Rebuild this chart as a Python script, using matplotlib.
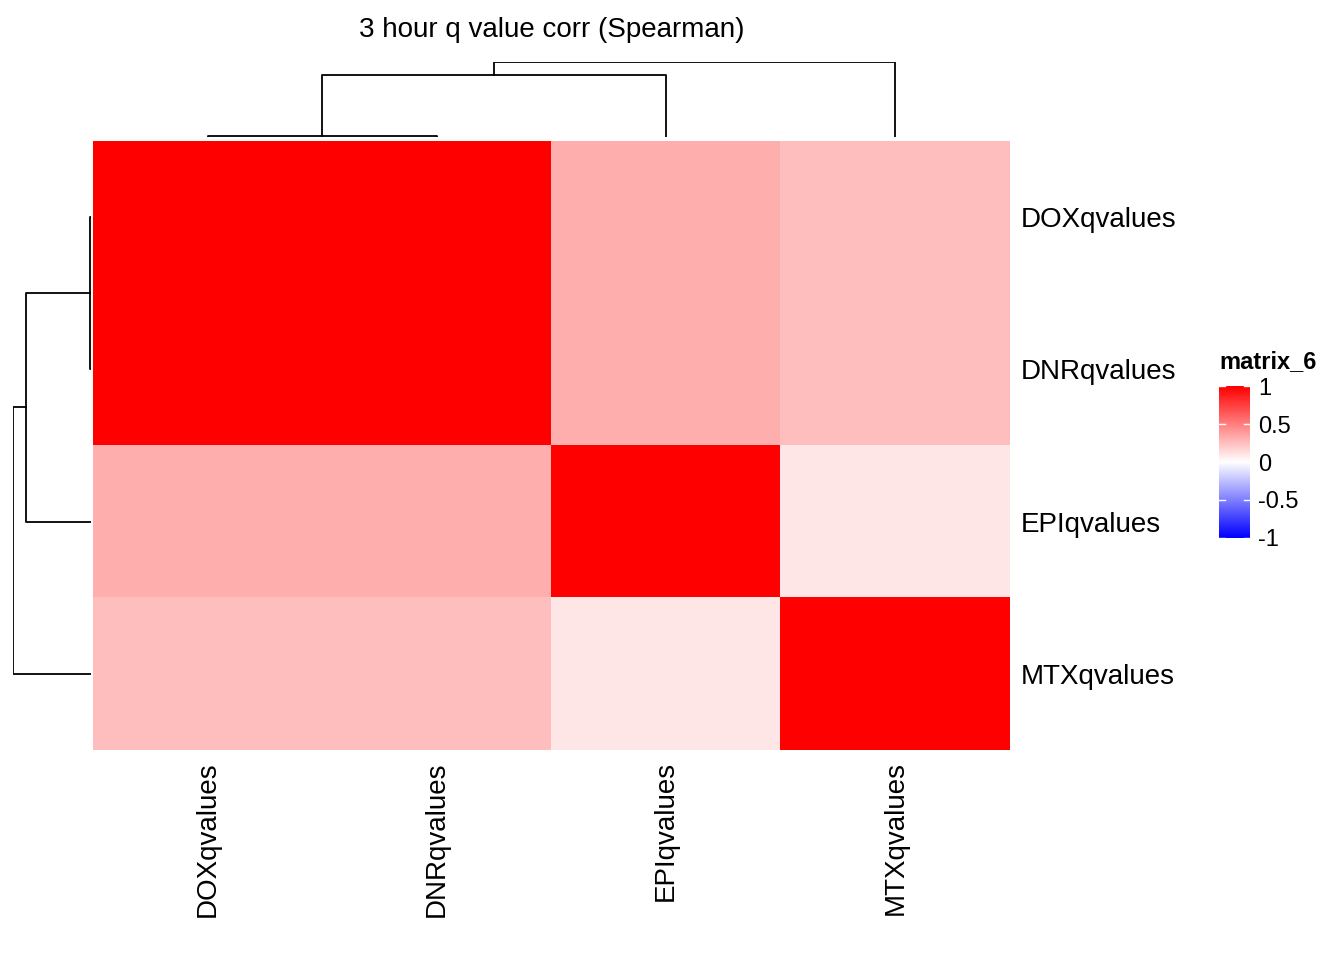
import matplotlib
matplotlib.use("Agg")
import matplotlib.pyplot as plt
import numpy as np
from matplotlib.colors import LinearSegmentedColormap

plt.rcParams['font.family'] = ['Liberation Sans', 'DejaVu Sans']

labels = ['DOXqvalues', 'DNRqvalues', 'EPIqvalues', 'MTXqvalues']
corr = np.array([
    [1.00, 1.00, 0.32, 0.25],
    [1.00, 1.00, 0.32, 0.25],
    [0.32, 0.32, 1.00, 0.10],
    [0.25, 0.25, 0.10, 1.00],
])
# merge heights (relative): DOX+DNR, +EPI, +MTX
merge_h = [0.013, 0.83, 1.0]

W, H = 1344, 960
fig = plt.figure(figsize=(13.44, 9.6), dpi=100)

def fax(x0, y0, x1, y1):
    return fig.add_axes([x0 / W, 1 - y1 / H, (x1 - x0) / W, (y1 - y0) / H])

cmap = LinearSegmentedColormap.from_list('bwr2', ['#0000FF', '#FFFFFF', '#FF0000'])

ax = fax(93, 141, 1010, 750)
ax.imshow(corr, cmap=cmap, vmin=-1, vmax=1, aspect='auto', interpolation='nearest')
ax.set_xticks(range(4))
ax.set_xticklabels(labels, rotation=90, fontsize=20)
ax.set_yticks(range(4))
ax.set_yticklabels(labels, fontsize=20)
ax.yaxis.tick_right()
ax.tick_params(length=0, pad=8)
for s in ax.spines.values():
    s.set_visible(False)

def dendro(a, horizontal):
    # leaf positions 0..3, merge heights
    pos = [0, 1, 2, 3]
    c1 = (pos[0] + pos[1]) / 2
    c2 = (c1 + pos[2]) / 2
    segs = [
        ([pos[0], pos[0], pos[1], pos[1]], [0, merge_h[0], merge_h[0], 0]),
        ([c1, c1, pos[2], pos[2]], [merge_h[0], merge_h[1], merge_h[1], 0]),
        ([c2, c2, pos[3], pos[3]], [merge_h[1], merge_h[2], merge_h[2], 0]),
    ]
    for xs, ys in segs:
        if horizontal:
            a.plot(xs, ys, color='black', lw=1.3)
        else:
            a.plot(ys, xs, color='black', lw=1.3)
    a.axis('off')

axt = fax(93, 62, 1010, 137)
dendro(axt, True)
axt.set_xlim(-0.5, 3.5)
axt.set_ylim(0, 1)

axl = fax(13, 141, 91, 750)
dendro(axl, False)
axl.set_ylim(3.5, -0.5)
axl.set_xlim(1, 0)

fig.text(552 / W, 1 - 30 / H, '3 hour q value corr (Spearman)', ha='center', va='center', fontsize=20)

cax = fax(1219, 383, 1250, 541)
grad = np.linspace(1, -1, 200).reshape(-1, 1)
cax.imshow(grad, cmap=cmap, vmin=-1, vmax=1, aspect='auto', extent=[0, 1, -1, 1])
ticks = [1, 0.5, 0, -0.5, -1]
cax.set_yticks(ticks)
cax.set_yticklabels(['1', '0.5', '0', '-0.5', '-1'], fontsize=17)
cax.yaxis.tick_right()
cax.tick_params(length=0, pad=6)
cax.set_xticks([])
cax.set_ylim(-1.04, 1.04)
for t in ticks:
    cax.plot([0, 0.2], [t, t], color='white', lw=1)
    cax.plot([0.8, 1], [t, t], color='white', lw=1)
for s in cax.spines.values():
    s.set_visible(False)
fig.text(1219 / W, 1 - 362 / H, 'matrix_6', ha='left', va='center', fontsize=17, fontweight='bold')

fig.savefig('out.png', dpi=100)
